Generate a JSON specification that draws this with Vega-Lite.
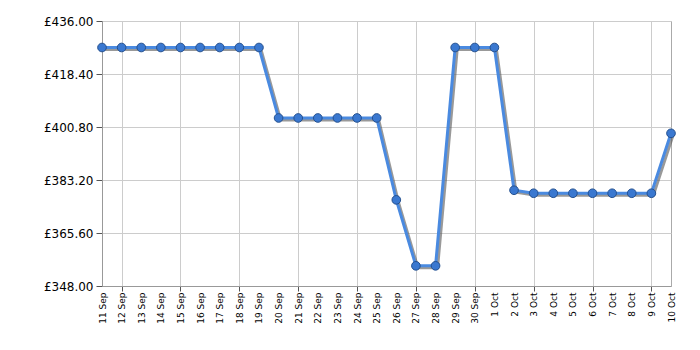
{
  "$schema": "https://vega.github.io/schema/vega-lite/v6.json",
  "width": 569,
  "height": 265,
  "autosize": "none",
  "padding": {"left": 102, "top": 21, "right": 29, "bottom": 64},
  "background": "white",
  "config": {
    "view": {"stroke": "#aaaaaa", "strokeWidth": 1},
    "axis": {"labelFont": "DejaVu Sans", "labelColor": "#000000", "domainColor": "#999999", "tickColor": "#555555", "gridColor": "#cccccc", "gridWidth": 1}
  },
  "data": {
    "values": [
      {"date": "11 Sep", "price": 427.2},
      {"date": "12 Sep", "price": 427.2},
      {"date": "13 Sep", "price": 427.2},
      {"date": "14 Sep", "price": 427.2},
      {"date": "15 Sep", "price": 427.2},
      {"date": "16 Sep", "price": 427.2},
      {"date": "17 Sep", "price": 427.2},
      {"date": "18 Sep", "price": 427.2},
      {"date": "19 Sep", "price": 427.2},
      {"date": "20 Sep", "price": 403.8},
      {"date": "21 Sep", "price": 403.8},
      {"date": "22 Sep", "price": 403.8},
      {"date": "23 Sep", "price": 403.8},
      {"date": "24 Sep", "price": 403.8},
      {"date": "25 Sep", "price": 403.8},
      {"date": "26 Sep", "price": 376.6},
      {"date": "27 Sep", "price": 354.7},
      {"date": "28 Sep", "price": 354.7},
      {"date": "29 Sep", "price": 427.2},
      {"date": "30 Sep", "price": 427.2},
      {"date": "1 Oct", "price": 427.2},
      {"date": "2 Oct", "price": 379.8},
      {"date": "3 Oct", "price": 378.8},
      {"date": "4 Oct", "price": 378.8},
      {"date": "5 Oct", "price": 378.8},
      {"date": "6 Oct", "price": 378.8},
      {"date": "7 Oct", "price": 378.8},
      {"date": "8 Oct", "price": 378.8},
      {"date": "9 Oct", "price": 378.8},
      {"date": "10 Oct", "price": 398.7}
    ]
  },
  "encoding": {
    "x": {"field": "date", "type": "ordinal", "sort": null, "scale": {"type": "point", "padding": 0}, "axis": null},
    "y": {"field": "price", "type": "quantitative", "scale": {"domain": [348, 436], "nice": false, "zero": false}}
  },
  "layer": [
    {
      "mark": {"type": "line", "stroke": "#555555", "strokeWidth": 3, "opacity": 0.6, "xOffset": 2, "yOffset": 2},
      "encoding": {
        "x": {"field": "date", "type": "ordinal", "sort": null, "scale": {"type": "point", "padding": 0},
          "axis": {"title": null, "orient": "bottom", "values": ["12 Sep", "15 Sep", "18 Sep", "21 Sep", "24 Sep", "27 Sep", "30 Sep", "3 Oct", "6 Oct", "9 Oct"], "labels": false, "grid": true, "ticks": true, "tickSize": 5, "domain": true}},
        "y": {"field": "price", "type": "quantitative", "scale": {"domain": [348, 436], "nice": false, "zero": false},
          "axis": {"title": null, "values": [348, 365.6, 383.2, 400.8, 418.4, 436], "labelExpr": "'£' + format(datum.value, '.2f')", "labelFontSize": 12, "tickSize": 6, "labelPadding": 3, "grid": true}}
      }
    },
    {
      "mark": {"type": "line", "stroke": "#4a8ae0", "strokeWidth": 3},
      "encoding": {
        "x": {"field": "date", "type": "ordinal", "sort": null, "scale": {"type": "point", "padding": 0},
          "axis": {"title": null, "orient": "bottom", "grid": false, "ticks": false, "domain": false, "labelAngle": 270, "labelAlign": "right", "labelBaseline": "middle", "labelFontSize": 9, "labelPadding": 6, "labelOverlap": false}}
      }
    },
    {
      "mark": {"type": "point", "filled": true, "shape": "circle", "size": 75, "fill": "#3a78d0", "stroke": "#24508f", "strokeWidth": 1, "opacity": 1}
    }
  ],
  "resolve": {"axis": {"x": "independent"}}
}
